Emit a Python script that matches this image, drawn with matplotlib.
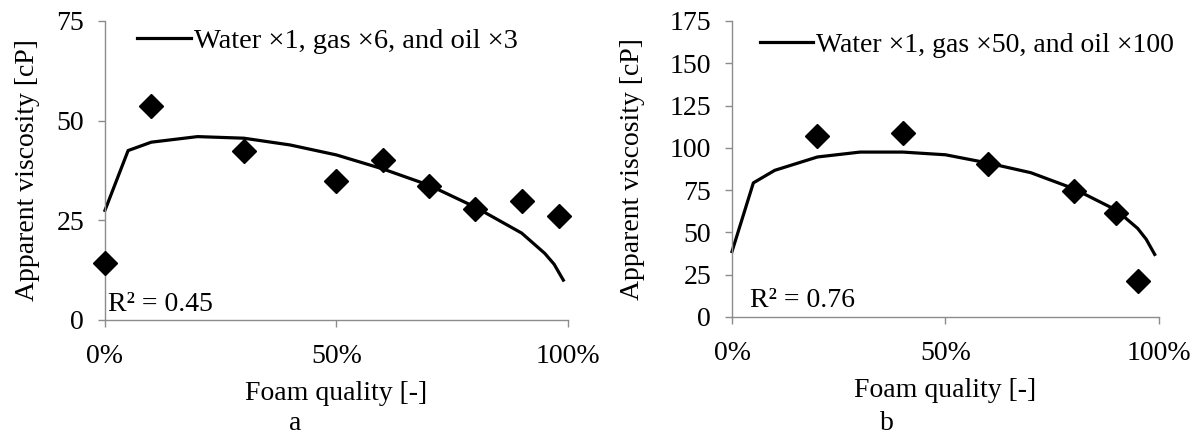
import numpy as np
import matplotlib
matplotlib.use("Agg")
import matplotlib.pyplot as plt
from matplotlib.ticker import PercentFormatter, MultipleLocator

plt.rcParams['font.family'] = ['Liberation Serif', 'DejaVu Serif']
plt.rcParams['font.size'] = 20

# panel a: measured points and model curve
a_pts_x = [0.0, 0.10, 0.30, 0.50, 0.60, 0.70, 0.80, 0.90, 0.98]
a_pts_y = [14.2, 53.8, 42.5, 34.8, 40.2, 33.5, 27.9, 29.8, 26.1]
a_line_x = [0.0, 0.05, 0.10, 0.20, 0.30, 0.40, 0.50, 0.60, 0.70, 0.80, 0.90, 0.95, 0.97, 0.99]
a_line_y = [27.5, 42.5, 44.6, 46.0, 45.6, 43.9, 41.4, 37.9, 33.8, 28.3, 21.8, 16.7, 14.0, 10.0]
a_label = "Water \u00d71, gas \u00d76, and oil \u00d73"
a_r2 = "R\u00b2 = 0.45"

# panel b
b_pts_x = [0.20, 0.40, 0.60, 0.80, 0.90, 0.95]
b_pts_y = [107.3, 108.9, 90.6, 74.4, 61.2, 21.4]
b_line_x = [0.0, 0.05, 0.10, 0.20, 0.30, 0.40, 0.50, 0.60, 0.70, 0.80, 0.90, 0.95, 0.97, 0.99]
b_line_y = [38.7, 79.3, 86.7, 94.6, 97.5, 97.5, 95.9, 91.0, 85.3, 75.9, 63.2, 52.4, 46.0, 37.0]
b_label = "Water \u00d71, gas \u00d750, and oil \u00d7100"
b_r2 = "R\u00b2 = 0.76"

GREY = '#8c8c8c'


def style_axis(ax, ymax, ylabelpad):
    ax.set_xlim(0, 1)
    ax.set_ylim(0, ymax)
    ax.xaxis.set_major_locator(MultipleLocator(0.5))
    ax.xaxis.set_major_formatter(PercentFormatter(xmax=1, decimals=0))
    ax.yaxis.set_major_locator(MultipleLocator(25))
    for s in ['top', 'right']:
        ax.spines[s].set_visible(False)
    for s in ['left', 'bottom']:
        ax.spines[s].set_color(GREY)
        ax.spines[s].set_linewidth(1.0)
    ax.tick_params(axis='both', color=GREY, length=5, width=1.0)
    ax.tick_params(axis='x', pad=12)
    ax.tick_params(axis='y', pad=10)
    ax.set_xlabel("Foam quality [-]", labelpad=9)
    ax.set_ylabel("Apparent viscosity [cP]", labelpad=ylabelpad)


fig = plt.figure(figsize=(12.01, 4.41), dpi=100)
ax1 = fig.add_axes([0.0874, 0.2744, 0.3855, 0.678])
ax2 = fig.add_axes([0.6095, 0.2812, 0.3555, 0.6712])

ax1.plot(a_line_x, a_line_y, color='black', lw=2.3, label=a_label, clip_on=False)
ax1.plot(a_pts_x, a_pts_y, 'D', color='black', ms=12, clip_on=False, zorder=3)
style_axis(ax1, 75, 12)
ax1.legend(loc='center left', bbox_to_anchor=(0.069, 0.934), frameon=False,
           handlelength=1.9, handletextpad=0.1, borderpad=0, borderaxespad=0,
           fontsize=20.5)
ax1.text(0.0065, 0.030, a_r2, transform=ax1.transAxes, ha='left', va='baseline')

ax2.plot(b_line_x, b_line_y, color='black', lw=2.3, label=b_label, clip_on=False)
ax2.plot(b_pts_x, b_pts_y, 'D', color='black', ms=12, clip_on=False, zorder=3)
style_axis(ax2, 175, 18)
ax2.legend(loc='center left', bbox_to_anchor=(0.0656, 0.919), frameon=False,
           handlelength=1.9, handletextpad=0.1, borderpad=0, borderaxespad=0,
           fontsize=20)
ax2.text(0.042, 0.034, b_r2, transform=ax2.transAxes, ha='left', va='baseline')

fig.text(295 / 1201, 1 - 424 / 441, "a", ha='center', va='center')
fig.text(887 / 1201, 1 - 424 / 441, "b", ha='center', va='center')

fig.savefig("out.png", dpi=100)
